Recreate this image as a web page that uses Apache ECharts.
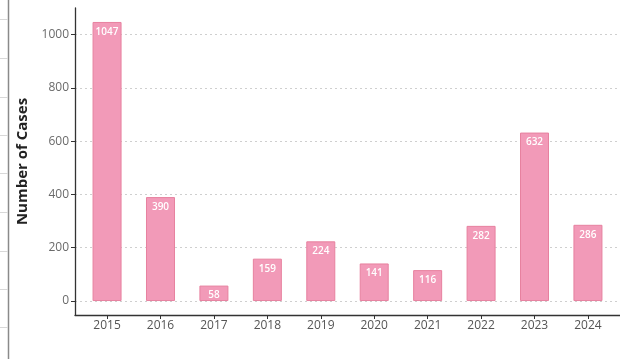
<!DOCTYPE html>
<html>
<head>
<meta charset="utf-8">
<script src="https://cdn.jsdelivr.net/npm/echarts@6/dist/echarts.min.js"></script>
<style>
  html, body { margin: 0; padding: 0; background: #fff; }
  #chart { width: 620px; height: 359px; }
</style>
</head>
<body>
<div id="chart"></div>
<script>
// Yearly case counts
const years = ['2015', '2016', '2017', '2018', '2019', '2020', '2021', '2022', '2023', '2024'];
const cases = [1047, 390, 58, 159, 224, 141, 116, 282, 632, 286];
const yTicks = [0, 200, 400, 600, 800, 1000];

const FONT = '"Open Sans", "DejaVu Sans", sans-serif';
const yMaxData = Math.max(...cases);
const pad = yMaxData * 0.05;          // 5% headroom above and below
const xIdx = years.map((_, i) => i);

const chart = echarts.init(document.getElementById('chart'), null, { renderer: 'canvas' });

chart.setOption({
  animation: false,
  backgroundColor: '#ffffff',
  grid: { left: 75, right: -2, top: 8, bottom: 44, containLabel: false },
  xAxis: {
    type: 'value',
    min: -0.6,
    max: years.length - 1 + 0.6,
    axisLine: { show: true, onZero: false, lineStyle: { color: '#333', width: 1.3 } },
    axisTick: { show: true, customValues: xIdx, length: 4, lineStyle: { color: '#333' } },
    axisLabel: {
      customValues: xIdx,
      formatter: v => years[Math.round(v)],
      color: '#555', fontFamily: FONT, fontSize: 12, margin: 5
    },
    splitLine: { show: false }
  },
  yAxis: {
    type: 'value',
    min: -pad,
    max: yMaxData + pad,
    name: 'Number of Cases',
    nameLocation: 'middle',
    nameGap: 42,
    nameTextStyle: { color: '#222', fontFamily: FONT, fontSize: 15, fontWeight: 'bold' },
    axisLine: { show: true, onZero: false, lineStyle: { color: '#333', width: 1.3 } },
    axisTick: { show: true, customValues: yTicks, length: 4, lineStyle: { color: '#333' } },
    axisLabel: {
      customValues: yTicks,
      formatter: v => String(Math.round(v)),
      color: '#6a6a6a', fontFamily: FONT, fontSize: 12, margin: 6
    },
    splitLine: { show: true, lineStyle: { color: '#cfcfcf', type: [2, 3], width: 1.2 } }
  },
  graphic: [
    // panel edge on the left
    { type: 'line', shape: { x1: 8.5, y1: 0, x2: 8.5, y2: 359 }, style: { stroke: '#8a8a8a', lineWidth: 1.5 } },
    ...[19, 58, 97, 135, 173, 212, 251, 289, 327].map(y => ({
      type: 'line', shape: { x1: 0, y1: y + 0.5, x2: 8, y2: y + 0.5 }, style: { stroke: '#d8d8d8', lineWidth: 1 }
    }))
  ],
  series: [{
    type: 'bar',
    data: cases.map((v, i) => [i, v]),
    barWidth: 29,
    itemStyle: { color: '#f29ab8', borderColor: '#e7819f', borderWidth: 1 },
    label: {
      show: true,
      position: 'insideTop',
      distance: 5,
      formatter: p => p.value[1],
      color: '#ffffff',
      fontFamily: FONT,
      fontSize: 10,
      fontWeight: 600
    }
  }]
});
</script>
</body>
</html>
